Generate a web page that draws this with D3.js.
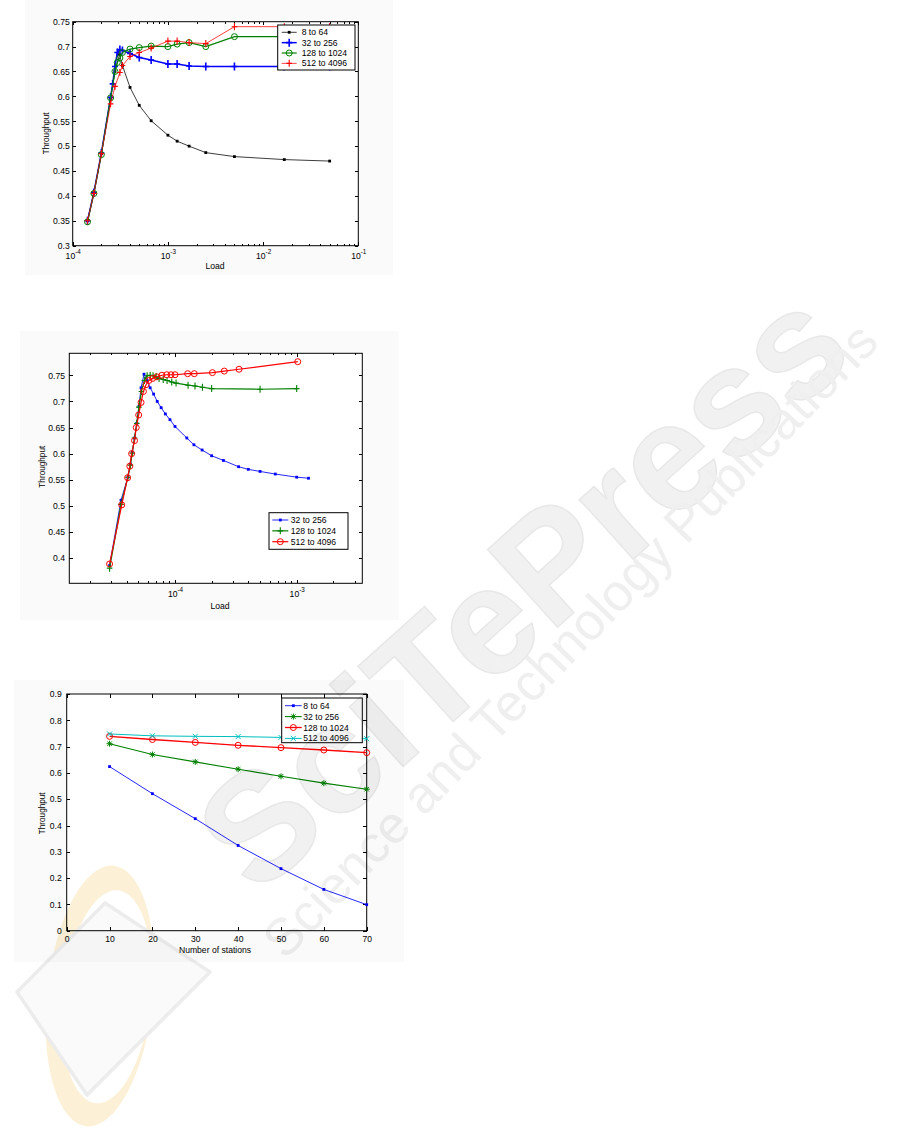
<!DOCTYPE html>
<html><head><meta charset="utf-8">
<script src="https://cdn.jsdelivr.net/npm/d3@7"></script>
<style>
body{margin:0;background:#fff}
svg{display:block}
</style>
</head><body>
<script>
// ---------------- DATA ----------------
// Chart 1 (Load, log scale) — series "8 to 64", "32 to 256", "128 to 1024", "512 to 4096"
const c1XTicks = [1e-4, 1e-3, 1e-2, 1e-1];
const c1YTicks = [0.3, 0.35, 0.4, 0.45, 0.5, 0.55, 0.6, 0.65, 0.7, 0.75];
const c1Names = ["8 to 64", "32 to 256", "128 to 1024", "512 to 4096"];
const c1X_a = [1.43e-4,1.67e-4,2.0e-4,2.5e-4,2.78e-4,3.1e-4,3.33e-4,4.0e-4,5.0e-4,6.67e-4,1.0e-3,1.25e-3,1.67e-3,2.5e-3,5.0e-3,1.67e-2,5.0e-2];
const c1Y_a = [0.350,0.407,0.485,0.596,0.650,0.684,0.662,0.618,0.582,0.551,0.522,0.510,0.500,0.487,0.479,0.473,0.470];
const c1X_b = [1.43e-4,1.67e-4,2.0e-4,2.5e-4,2.63e-4,2.78e-4,2.94e-4,3.13e-4,3.33e-4,4.0e-4,5.0e-4,6.67e-4,1.0e-3,1.25e-3,1.67e-3,2.5e-3,5.0e-3,1.67e-2,5.0e-2];
const c1Y_b = [0.350,0.407,0.486,0.598,0.625,0.660,0.688,0.694,0.692,0.686,0.678,0.673,0.665,0.665,0.661,0.660,0.660,0.660,0.660];
const c1X_c = [1.43e-4,1.67e-4,2.0e-4,2.5e-4,2.78e-4,2.94e-4,3.13e-4,3.33e-4,4.0e-4,5.0e-4,6.67e-4,1.0e-3,1.25e-3,1.67e-3,2.5e-3,5.0e-3,1.67e-2,5.0e-2];
const c1Y_c = [0.348,0.405,0.483,0.597,0.650,0.668,0.677,0.688,0.695,0.698,0.701,0.700,0.705,0.708,0.700,0.720,0.720,0.720];
const c1X_d = [1.43e-4,1.67e-4,2.0e-4,2.5e-4,2.78e-4,3.13e-4,3.33e-4,4.0e-4,5.0e-4,6.67e-4,1.0e-3,1.25e-3,1.67e-3,2.5e-3,5.0e-3,1.67e-2,5.0e-2];
const c1Y_d = [0.350,0.405,0.485,0.585,0.620,0.648,0.662,0.680,0.688,0.697,0.711,0.711,0.708,0.706,0.740,0.740,0.740];

// Chart 2 (Load, log scale) — "32 to 256", "128 to 1024", "512 to 4096"
const c2XTicks = [1e-4, 1e-3];
const c2YTicks = [0.4, 0.45, 0.5, 0.55, 0.6, 0.65, 0.7, 0.75];
const c2Names = ["32 to 256", "128 to 1024", "512 to 4096"];
const c2X_a = [2.9e-5,3.6e-5,4.1e-5,4.3e-5,4.45e-5,4.65e-5,4.85e-5,5.05e-5,5.26e-5,5.56e-5,5.9e-5,6.25e-5,6.67e-5,7.14e-5,7.69e-5,8.33e-5,9.09e-5,1.0e-4,1.25e-4,1.43e-4,1.67e-4,2.0e-4,2.5e-4,3.33e-4,4.0e-4,5.0e-4,6.67e-4,1.0e-3,1.25e-3];
const c2Y_a = [0.386,0.511,0.555,0.580,0.603,0.630,0.658,0.690,0.726,0.752,0.740,0.726,0.714,0.700,0.688,0.676,0.665,0.652,0.630,0.617,0.607,0.596,0.587,0.575,0.570,0.566,0.561,0.555,0.553];
const c2X_b = [2.9e-5,3.6e-5,4.1e-5,4.3e-5,4.45e-5,4.65e-5,4.85e-5,5.05e-5,5.3e-5,5.6e-5,5.9e-5,6.25e-5,6.6e-5,7.0e-5,7.4e-5,8.0e-5,8.6e-5,9.4e-5,1.02e-4,1.28e-4,1.46e-4,1.68e-4,2.0e-4,5.0e-4,1.0e-3];
const c2Y_b = [0.381,0.503,0.555,0.578,0.601,0.630,0.658,0.689,0.719,0.740,0.749,0.750,0.749,0.7475,0.744,0.742,0.740,0.737,0.735,0.731,0.7295,0.727,0.7245,0.7232,0.7245];
const c2X_c = [2.9e-5,3.65e-5,4.08e-5,4.25e-5,4.4e-5,4.65e-5,4.8e-5,5.03e-5,5.26e-5,5.5e-5,5.78e-5,6.1e-5,6.56e-5,7.08e-5,7.8e-5,8.55e-5,9.27e-5,1.0e-4,1.27e-4,1.44e-4,2.03e-4,2.54e-4,3.36e-4,1.02e-3];
const c2Y_c = [0.389,0.502,0.554,0.576,0.600,0.625,0.650,0.674,0.698,0.719,0.732,0.740,0.744,0.747,0.750,0.751,0.751,0.751,0.753,0.753,0.755,0.758,0.7615,0.776];

// Chart 3 (Number of stations)
const c3XTicks = [0, 10, 20, 30, 40, 50, 60, 70];
const c3YTicks = [0, 0.1, 0.2, 0.3, 0.4, 0.5, 0.6, 0.7, 0.8, 0.9];
const c3Names = ["8 to 64", "32 to 256", "128 to 1024", "512 to 4096"];
const c3Stations = [10, 20, 30, 40, 50, 60, 70];
const c3Y_a = [0.624, 0.521, 0.426, 0.324, 0.236, 0.157, 0.099];
const c3Y_b = [0.711, 0.670, 0.642, 0.614, 0.587, 0.561, 0.538];
const c3Y_c = [0.739, 0.727, 0.716, 0.705, 0.696, 0.687, 0.677];
const c3Y_d = [0.748, 0.741, 0.739, 0.738, 0.735, 0.733, 0.730];

// Watermark texts
const wmTitle = "SciTePress";
const wmSub = "Science and Technology Publications";

// ---------------- DRAWING ----------------
const FONT = '"Liberation Sans", Arial, sans-serif';
const FS = 8.6;
const svg = d3.select("body").append("svg").attr("width", 901).attr("height", 1144);

const fmtNum = v => String(+v.toFixed(2));

function marker(g, type, cx, cy, color) {
  if (type === "dot") {
    g.append("rect").attr("x", cx - 1.4).attr("y", cy - 1.4).attr("width", 2.8).attr("height", 2.8).attr("fill", color);
  } else if (type === "plusB") {
    g.append("path").attr("d", `M${cx-3},${cy}H${cx+3}M${cx},${cy-4}V${cy+4}`).attr("stroke", color).attr("stroke-width", 1.6).attr("fill", "none");
  } else if (type === "plus") {
    g.append("path").attr("d", `M${cx-2.8},${cy}H${cx+2.8}M${cx},${cy-3.5}V${cy+3.5}`).attr("stroke", color).attr("stroke-width", 1.1).attr("fill", "none");
  } else if (type === "circle") {
    g.append("circle").attr("cx", cx).attr("cy", cy).attr("r", 3).attr("fill", "none").attr("stroke", color).attr("stroke-width", 1);
  } else if (type === "star") {
    g.append("path").attr("d", `M${cx-3},${cy}H${cx+3}M${cx},${cy-3}V${cy+3}M${cx-2.2},${cy-2.2}L${cx+2.2},${cy+2.2}M${cx-2.2},${cy+2.2}L${cx+2.2},${cy-2.2}`).attr("stroke", color).attr("stroke-width", 1).attr("fill", "none");
  } else if (type === "x") {
    g.append("path").attr("d", `M${cx-2.5},${cy-2.5}L${cx+2.5},${cy+2.5}M${cx-2.5},${cy+2.5}L${cx+2.5},${cy-2.5}`).attr("stroke", color).attr("stroke-width", 1).attr("fill", "none");
  }
}

function styleAxis(a) {
  a.select(".domain").remove();
  a.attr("font-family", FONT).attr("font-size", FS);
  a.selectAll("line").attr("stroke", "#000").attr("shape-rendering", "crispEdges");
  a.selectAll("text").attr("fill", "#000");
  return a;
}

function minorLog(domain) {
  const out = [];
  const e0 = Math.floor(Math.log10(domain[0])), e1 = Math.ceil(Math.log10(domain[1]));
  for (let e = e0; e <= e1; e++) for (let k = 2; k <= 9; k++) {
    const v = k * Math.pow(10, e);
    if (v > domain[0] && v < domain[1]) out.push(v);
  }
  return out;
}

function drawChart(cfg) {
  const g = svg.append("g");
  g.append("rect").attr("x", cfg.bg[0]).attr("y", cfg.bg[1]).attr("width", cfg.bg[2] - cfg.bg[0]).attr("height", cfg.bg[3] - cfg.bg[1]).attr("fill", "#fafafa");
  g.append("rect").attr("x", cfg.x0).attr("y", cfg.y0).attr("width", cfg.x1 - cfg.x0).attr("height", cfg.y1 - cfg.y0).attr("fill", "#fff");

  const x = cfg.log ? d3.scaleLog().domain(cfg.xDomain).range([cfg.x0, cfg.x1])
                    : d3.scaleLinear().domain(cfg.xDomain).range([cfg.x0, cfg.x1]);
  const y = d3.scaleLinear().domain(cfg.yDomain).range([cfg.y1, cfg.y0]);

  const T = 3.5, t = 2;
  const bottom = styleAxis(g.append("g").attr("transform", `translate(0,${cfg.y1})`)
    .call(d3.axisBottom(x).tickValues(cfg.xTicks).tickSize(-T).tickSizeOuter(0).tickPadding(cfg.xPad)
      .tickFormat(cfg.log ? (() => "") : (d => String(d)))));
  styleAxis(g.append("g").attr("transform", `translate(0,${cfg.y0})`)
    .call(d3.axisTop(x).tickValues(cfg.xTicks).tickSize(-T).tickSizeOuter(0).tickFormat("")));
  if (cfg.log) {
    const minors = minorLog(cfg.xDomain);
    styleAxis(g.append("g").attr("transform", `translate(0,${cfg.y1})`)
      .call(d3.axisBottom(x).tickValues(minors).tickSize(-t).tickSizeOuter(0).tickFormat("")));
    styleAxis(g.append("g").attr("transform", `translate(0,${cfg.y0})`)
      .call(d3.axisTop(x).tickValues(minors).tickSize(-t).tickSizeOuter(0).tickFormat("")));
    bottom.selectAll(".tick text").each(function (d) {
      const tx = d3.select(this);
      tx.text(null).attr("y", cfg.xLabBase).attr("dy", 0).attr("text-anchor", "middle");
      tx.append("tspan").text("10");
      tx.append("tspan").attr("dy", -5).attr("font-size", 6.3).text(String(Math.round(Math.log10(d))));
    });
  } else {
    bottom.selectAll(".tick text").attr("y", cfg.xLabBase).attr("dy", 0);
  }
  styleAxis(g.append("g").attr("transform", `translate(${cfg.x0},0)`)
    .call(d3.axisLeft(y).tickValues(cfg.yTicks).tickSize(-T).tickSizeOuter(0).tickPadding(cfg.yPad).tickFormat(fmtNum)));
  styleAxis(g.append("g").attr("transform", `translate(${cfg.x1},0)`)
    .call(d3.axisRight(y).tickValues(cfg.yTicks).tickSize(-T).tickSizeOuter(0).tickFormat("")));

  g.append("rect").attr("x", cfg.x0).attr("y", cfg.y0).attr("width", cfg.x1 - cfg.x0).attr("height", cfg.y1 - cfg.y0)
    .attr("fill", "none").attr("stroke", "#000").attr("stroke-width", 1);

  g.append("text").attr("x", cfg.xTitle[0]).attr("y", cfg.xTitle[1]).attr("text-anchor", "middle")
    .attr("font-family", FONT).attr("font-size", FS).attr("fill", "#000").text(cfg.xLabel);
  g.append("text").attr("transform", `translate(${cfg.yTitle[0]},${cfg.yTitle[1]}) rotate(-90)`)
    .attr("text-anchor", "middle").attr("dy", "0.35em")
    .attr("font-family", FONT).attr("font-size", 8.2).attr("fill", "#000").text("Throughput");

  const line = d3.line().x(d => x(d[0])).y(d => y(d[1]));
  cfg.series.forEach(s => {
    const pts = s.x.map((v, i) => [v, s.y[i]]);
    g.append("path").datum(pts).attr("d", line).attr("fill", "none")
      .attr("stroke", s.color).attr("stroke-width", s.w).attr("stroke-opacity", s.op || 1);
    const mg = g.append("g");
    pts.forEach(p => marker(mg, s.marker, x(p[0]), y(p[1]), s.color));
  });

  const L = cfg.legend;
  g.append("rect").attr("x", L.x).attr("y", L.y).attr("width", L.w).attr("height", L.h)
    .attr("fill", "#fff").attr("stroke", "#000").attr("stroke-width", 1);
  cfg.series.forEach((s, i) => {
    const ry = L.y + L.first + i * L.step;
    g.append("line").attr("x1", L.lx0).attr("x2", L.lx1).attr("y1", ry).attr("y2", ry)
      .attr("stroke", s.color).attr("stroke-width", s.w).attr("stroke-opacity", s.op || 1);
    marker(g, s.marker, (L.lx0 + L.lx1) / 2, ry, s.color);
    g.append("text").attr("x", L.tx).attr("y", ry).attr("dy", "0.36em")
      .attr("font-family", FONT).attr("font-size", FS).attr("fill", "#000").text(s.name);
  });
}

drawChart({
  bg: [25, 0, 393, 275],
  x0: 72.7, x1: 358.3, y0: 21.7, y1: 245.7,
  log: true, xDomain: [1e-4, 1e-1], yDomain: [0.3, 0.75],
  xTicks: c1XTicks, yTicks: c1YTicks, xPad: 3, yPad: 3, xLabBase: 13.3,
  xLabel: "Load", xTitle: [215, 269], yTitle: [46, 133.3],
  series: [
    { name: c1Names[0], x: c1X_a, y: c1Y_a, color: "#000", marker: "dot", w: 0.9, op: 0.85 },
    { name: c1Names[1], x: c1X_b, y: c1Y_b, color: "#0000ff", marker: "plusB", w: 1.5 },
    { name: c1Names[2], x: c1X_c, y: c1Y_c, color: "#008000", marker: "circle", w: 1.2 },
    { name: c1Names[3], x: c1X_d, y: c1Y_d, color: "#ff0000", marker: "plus", w: 1, op: 0.75 }
  ],
  legend: { x: 277.7, y: 25, w: 77.3, h: 45, first: 7.3, step: 10.35, lx0: 281.7, lx1: 296.7, tx: 301.7 }
});

drawChart({
  bg: [20, 331, 398.5, 620],
  x0: 69.3, x1: 362.3, y0: 353.3, y1: 583.3,
  log: true, xDomain: [1.353e-5, 3.46e-3], yDomain: [0.352, 0.792],
  xTicks: c2XTicks, yTicks: c2YTicks, xPad: 3, yPad: 4.3, xLabBase: 13.7,
  xLabel: "Load", xTitle: [220, 608.5], yTitle: [41.7, 466.7],
  series: [
    { name: c2Names[0], x: c2X_a, y: c2Y_a, color: "#0000ff", marker: "dot", w: 1, op: 0.85 },
    { name: c2Names[1], x: c2X_b, y: c2Y_b, color: "#008000", marker: "plus", w: 1.2 },
    { name: c2Names[2], x: c2X_c, y: c2Y_c, color: "#ff0000", marker: "circle", w: 1.2 }
  ],
  legend: { x: 269, y: 512.7, w: 79, h: 36.6, first: 7.3, step: 10.85, lx0: 272.3, lx1: 288.3, tx: 290.7 }
});

drawChart({
  bg: [14, 680, 404, 962],
  x0: 66.7, x1: 366.7, y0: 694, y1: 930.7,
  log: false, xDomain: [0, 70], yDomain: [0, 0.9],
  xTicks: c3XTicks, yTicks: c3YTicks, xPad: 3, yPad: 5, xLabBase: 11.2,
  xLabel: "Number of stations", xTitle: [215, 953], yTitle: [41.7, 813.3],
  series: [
    { name: c3Names[0], x: c3Stations, y: c3Y_a, color: "#0000ff", marker: "dot", w: 1, op: 0.85 },
    { name: c3Names[1], x: c3Stations, y: c3Y_b, color: "#008000", marker: "star", w: 1.1 },
    { name: c3Names[2], x: c3Stations, y: c3Y_c, color: "#ff0000", marker: "circle", w: 1.3 },
    { name: c3Names[3], x: c3Stations, y: c3Y_d, color: "#00bfbf", marker: "x", w: 1 }
  ],
  legend: { x: 281.7, y: 698, w: 80.6, h: 44.7, first: 7.7, step: 10.9, lx0: 285, lx1: 301.7, tx: 303.3 }
});

// ---------------- WATERMARK ----------------
const wm = svg.append("g").style("mix-blend-mode", "multiply").style("pointer-events", "none");
const ring = wm.append("g").attr("transform", "translate(100,996) rotate(6)");
const ringPath = `M0,-131 A53,131 0 1,1 0,131 A53,131 0 1,1 0,-131 Z` +
                 `M7,-107 A44,107 0 1,0 7,107 A44,107 0 1,0 7,-107 Z`;
ring.append("path").attr("d", ringPath).attr("fill", "#f7d88a").attr("fill-opacity", 0.35).attr("fill-rule", "evenodd");
wm.append("path").attr("d", "M105,903L210,972L87,1095L17,992Z")
  .attr("fill", "#fafafa").attr("stroke", "#ececec").attr("stroke-width", 3.5).attr("stroke-linejoin", "round");
wm.append("text").attr("transform", "translate(522,588) rotate(-42)")
  .attr("text-anchor", "middle").attr("dominant-baseline", "central")
  .attr("font-family", FONT).attr("font-weight", "bold").attr("font-size", 152)
  .attr("fill", "#f1f1f1").attr("stroke", "#e8e8e8").attr("stroke-width", 1.5).text(wmTitle);
wm.append("text").attr("transform", "translate(570,640) rotate(-46)")
  .attr("text-anchor", "middle").attr("dominant-baseline", "central")
  .attr("font-family", FONT).attr("font-size", 52)
  .attr("fill", "#efefef").text(wmSub);
</script>
</body></html>
